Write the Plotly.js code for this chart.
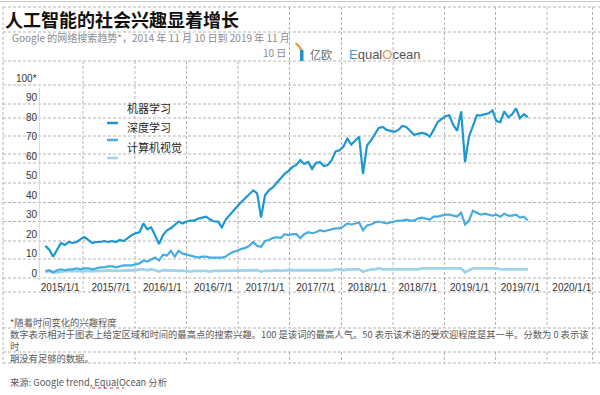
<!DOCTYPE html>
<html><head><meta charset="utf-8">
<script src="https://cdn.plot.ly/plotly-3.0.1.min.js"></script>
<style>html,body{margin:0;padding:0;background:#fff;}#chart{width:600px;height:395px;}</style>
</head><body><div id="chart"></div>
<script>
// ---- data (Google Trends, 2-week samples) ----
const startDate = '2014-11-09';
const stepDays = 14;
const seriesNames = ['机器学习', '深度学习', '计算机视觉'];
const machineLearning = [
14,12,8.5,12,15.5,14.5,16,15.5,16,17.5,18.5,17,15.5,16,16,16.5,16,16.5,16,17,
16.5,18,19.5,20.5,21,25.5,22.5,23.5,19,15,19.5,22,23,25,26.5,25.5,26.5,27,27,28,
28.5,29,27.5,26.5,26.5,23.5,27.5,30,32.5,34.5,36.5,38.5,40.5,42.5,41,28.5,40,42.5,44,46.5,
49,51,52.5,54.5,55.5,58,56,57,53.5,56.5,57,55,55.5,58,62.5,63,65,69,66,68,
70,51,65.5,68,71,74.5,75,73.5,73,72.5,73.5,75.5,75,73,71,71.5,72,71.5,70,73.5,
77.5,79,80.5,81,76,73,83,57,70,75.5,81,81,81.5,82,83.5,78,77.5,83,80,81.5,
84.5,79.5,81.5,80];
const deepLearning = [
1,1.5,0.5,1.5,2,1.5,2,2,2.5,2,2.5,2.5,2,2.5,3,3,3.5,3.5,3,3.5,
4,4,4,4.5,5,6.5,6,7,8,6.5,9.5,9,11.5,8.5,11.5,10,9.5,9,8.5,8,
8.5,8.5,8,8,8,8,8.5,10,11,11.5,12.5,13,14,16,14,13.5,16.5,17,18,18.5,
18,20,19.5,20,20,18,20,21,20.5,21,22,21.5,22,22.5,23,23,24,25.5,25,25.5,
26,22,24.5,25,26,26.5,26,25.5,26,26.5,27,27,27.5,27,27,28,28.5,28,27.5,29,
29,29.5,30,30,29.5,29,31,25,27,32,31,30,30.5,30,29.5,30,29,30.5,29.5,29.5,
30,28.5,29,27];
const computerVision = [
0.5,1,0.3,0.5,1,1,1.2,1,1.2,1,1.2,1.2,1,1.2,1.2,1.2,1.5,1.2,1.2,1.5,
1.2,1.5,1.5,1.5,2,2,1.5,2,1.5,0.8,1.5,1.5,1.2,1.2,1.2,1.2,1.2,0.8,1.2,1.2,
1.2,1.2,0.8,1.2,1.2,1.2,1.2,1.2,1.5,1.2,1.2,1.2,1.5,1.5,1.5,0.8,1.2,1.2,1.5,1.5,
1.2,1.5,1.5,1.5,1.5,1.2,1.5,1.5,1.5,1.5,1.5,1.5,1.5,1.5,2,2,1.5,2,2,2,
2,0.8,1.5,2,2,2.5,2,2,2,2,2,2,2,2,2,2,2.5,2.5,2.5,2.5,
2.5,2.5,2.5,2.5,2.5,2.5,2.5,0.5,1.5,2.5,2.5,2.5,2.5,2.5,2.5,2.5,2,2,2,2,
2,2,2,2];
const xTickVals = ['2015-01-01','2015-07-01','2016-01-01','2016-07-01','2017-01-01','2017-07-01',
                   '2018-01-01','2018-07-01','2019-01-01','2019-07-01','2020-01-01'];
const xTickText = ['2015/1/1','2015/7/1','2016/1/1','2016/7/1','2017/1/1','2017/7/1',
                   '2018/1/1','2018/7/1','2019/1/1','2019/7/1','2020/1/1'];
const yTickVals = [0,10,20,30,40,50,60,70,80,90];
const yTopLabel = '100*';

const titleText = '人工智能的社会兴趣显着增长';
const subtitle1 = 'Google 的网络搜索趋势*，2014 年 11 月 10 日到 2019 年 11 月';
const subtitle2 = '10 日';
const noteLines = [
  '*随着时间变化的兴趣程度',
  '数字表示相对于图表上给定区域和时间的最高点的搜索兴趣。100 是该词的最高人气。50 表示该术语的受欢迎程度是其一半。分数为 0 表示该',
  '时',
  '期没有足够的数据。'
];
const sourceText = '来源: Google trend, EqualOcean 分析';

// ---- build ----
function buildDates(n) {
  const d0 = new Date(startDate + 'T00:00:00Z').getTime();
  const out = [];
  for (let i = 0; i < n; i++) out.push(new Date(d0 + i * stepDays * 86400000).toISOString().slice(0, 10));
  return out;
}
const colors = ['#1b97d2', '#45ade0', '#9fd3ec'];
const widths = [2.2, 2.2, 2.8];
const seriesValues = [machineLearning, deepLearning, computerVision];
const FONT = '"Liberation Sans", Arial, "Noto Sans CJK SC", sans-serif';
const CJK = '"Noto Sans CJK SC", "Liberation Sans", sans-serif';

const traces = seriesValues.map((v, k) => ({
  type: 'scatter', mode: 'lines', name: seriesNames[k],
  x: buildDates(v.length), y: v,
  line: {color: colors[k], width: widths[k]}, showlegend: false, hoverinfo: 'skip'
}));
traces.reverse();

// pixel helpers (plot area: x 40..590, y 88..280)
const L = 40, R = 10, T = 88, B = 115, W = 600, H = 395;
const pw = W - L - R, ph = H - T - B;
const px = x => (x - L) / pw;
const py = y => (H - B - y) / ph;

const shapes = [];
const dash = {color: '#b4b4b4', width: 1, dash: '3px,2px'};
function hline(y, x0, x1) { shapes.push({type:'line', xref:'paper', yref:'paper', x0:px(x0), x1:px(x1), y0:py(y), y1:py(y), line:dash, layer:'below'}); }
function vline(x, y0, y1) { shapes.push({type:'line', xref:'paper', yref:'paper', x0:px(x), x1:px(x), y0:py(y0), y1:py(y1), line:dash, layer:'below'}); }

const cols = [3, 83, 135, 186.5, 238, 289.5, 341.5, 393, 444.5, 495.5, 547, 592.5];
const rows = [7, 32, 61, 85, 104, 118, 136, 154, 163, 183, 202.5, 221.5, 241, 259, 278, 292, 328, 352, 363];
rows.forEach(y => hline(y, 3, 600));
cols.forEach(x => {
  if (x === 3 || x === 592.5) { vline(x, 7, 363); return; }
  if (x >= 289) vline(x, 7, 328);
  else if (x === 83) vline(x, 61, 292);
  else vline(x, 61, 328);
  if (x !== 83) vline(x, 352, 363);
});
// window frame line at very top
shapes.push({type:'line', xref:'paper', yref:'paper', x0:px(0), x1:px(600), y0:py(1.5), y1:py(1.5), line:{color:'#c8c8c8', width:1}});
// legend samples
const legY = [123, 140, 158];
legY.forEach((y, k) => shapes.push({type:'line', xref:'paper', yref:'paper', x0:px(107), x1:px(118), y0:py(y), y1:py(y), line:{color:colors[k], width:2.5}}));
// logo icon
shapes.push({type:'path', xref:'paper', yref:'paper', path:`M ${px(295)} ${py(44)} Q ${px(299)} ${py(47)} ${px(301)} ${py(52)} L ${px(303)} ${py(50)} Q ${px(300)} ${py(45)} ${px(296)} ${py(42)} Z`, fillcolor:'#e89a4c', line:{width:0}});
shapes.push({type:'rect', xref:'paper', yref:'paper', x0:px(300), x1:px(303.5), y0:py(50), y1:py(61), fillcolor:'#2b8fc7', line:{width:0}});
// spell-check underline under EqualOcean in source line
shapes.push({type:'line', xref:'paper', yref:'paper', x0:px(92), x1:px(124), y0:py(388), y1:py(388), line:{color:'#e03030', width:1, dash:'dot'}});

function ann(text, x, y, opt) {
  return Object.assign({text, xref:'paper', yref:'paper', x:px(x), y:py(y), xanchor:'left', yanchor:'middle', showarrow:false,
    font:{family:CJK, size:9.3, color:'#595959'}}, opt || {});
}
const annotations = [
  ann('<b>' + titleText + '</b>', 3, 19, {font:{family:CJK, size:18, color:'#111'}}),
  ann(subtitle1, 10, 38, {font:{family:CJK, size:10, color:'#8a8a8a'}}),
  ann(subtitle2, 288, 53, {xanchor:'right', font:{family:CJK, size:10, color:'#8a8a8a'}}),
  ann('亿欧', 308, 54, {font:{family:CJK, size:11, color:'#666'}}),
  ann('<span style="color:#3a9ccf">E</span>qual<span style="color:#e0954f">O</span>cean', 347, 54, {font:{family:FONT, size:13, color:'#555'}}),
  ann(yTopLabel, 39, 78, {xanchor:'right', font:{family:FONT, size:10, color:'#333'}}),
  ann(seriesNames[0], 125, 108, {font:{family:CJK, size:11, color:'#262626'}}),
  ann(seriesNames[1], 125, 127, {font:{family:CJK, size:11, color:'#262626'}}),
  ann(seriesNames[2], 125, 147, {font:{family:CJK, size:11, color:'#262626'}}),
  ann(noteLines.join('<br>'), 8, 340, {align:'left'}),
  ann(sourceText, 8, 382),
];

const layout = {
  width: W, height: H, margin: {l:L, r:R, t:T, b:B, pad:0},
  paper_bgcolor: '#fff', plot_bgcolor: 'rgba(0,0,0,0)',
  showlegend: false,
  xaxis: {type:'date', range:['2014-10-21','2020-03-06'], tickvals:xTickVals, ticktext:xTickText,
          showgrid:false, zeroline:false, showline:false, ticks:'', tickangle:0,
          tickfont:{family:FONT, size:10, color:'#333'}},
  yaxis: {range:[-3.5, 95], tickvals:yTickVals, showgrid:false, zeroline:false, showline:true,
          linecolor:'#d9d9d9', linewidth:1, ticks:'', tickfont:{family:FONT, size:10, color:'#333'}},
  shapes, annotations
};
Plotly.newPlot('chart', traces, layout, {staticPlot:true, displayModeBar:false});
</script></body></html>
